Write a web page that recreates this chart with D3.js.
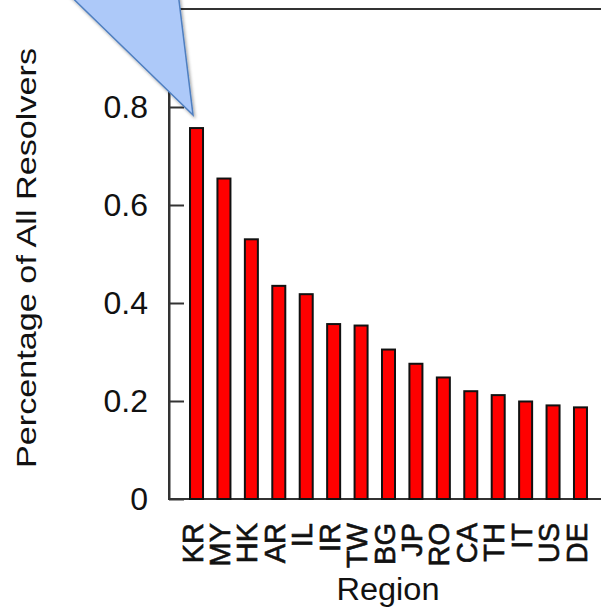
<!DOCTYPE html>
<html lang="en">
  <head>
    <meta charset="UTF-8" />
    <script src="https://d3js.org/d3.v7.min.js"></script>
    <title>Resolvers by region</title>
    <style>
      html, body { margin: 0; padding: 0; background: #fff; }
      svg { display: block; }
      text { font-family: "Liberation Sans", Arial, sans-serif; fill: #111; }
    </style>
  </head>
  <body>
    <svg width="601" height="607"></svg>
    <script>
      // values
      var regions = ["KR", "MY", "HK", "AR", "IL", "IR", "TW", "BG", "JP", "RO", "CA", "TH", "IT", "US", "DE"];
      var shares = [0.757, 0.654, 0.53, 0.435, 0.418, 0.357, 0.354, 0.305, 0.276, 0.248, 0.22, 0.212, 0.199, 0.191, 0.187];
      var yTicks = [0, 0.2, 0.4, 0.6, 0.8];

      var svg = d3.select("svg"),
        plotLeft = 169, plotRight = 608, plotTop = 9, plotBottom = 499;

      var x = d3.scaleBand()
        .domain(regions)
        .range([plotLeft, plotRight])
        .paddingInner(0.453)
        .paddingOuter(0.73);

      var y = d3.scaleLinear().domain([0, 1]).range([plotBottom, plotTop]);

      // frame
      svg.append("rect")
        .attr("x", plotLeft).attr("y", plotTop)
        .attr("width", plotRight - plotLeft).attr("height", plotBottom - plotTop)
        .attr("fill", "none")
        .attr("stroke", "#333")
        .attr("stroke-width", 2);

      // bars
      svg.append("g")
        .selectAll("rect")
        .data(regions)
        .enter()
        .append("rect")
        .attr("x", function (d) { return x(d) + 1; })
        .attr("y", function (d, i) { return y(shares[i]); })
        .attr("width", x.bandwidth() - 2)
        .attr("height", function (d, i) { return y(0) - y(shares[i]); })
        .attr("fill", "#ff0000")
        .attr("stroke", "#111")
        .attr("stroke-width", 2);

      // y axis, ticks point inwards
      var yAxis = svg.append("g")
        .attr("transform", "translate(" + plotLeft + ",0)")
        .call(d3.axisLeft(y).tickValues(yTicks).tickSizeInner(-15).tickSizeOuter(0).tickPadding(21)
          .tickFormat(function (d) { return d === 0 ? "0" : d3.format(".1f")(d); }));
      yAxis.select(".domain").attr("stroke", "#333").attr("stroke-width", 2);
      yAxis.selectAll(".tick line").attr("stroke", "#333").attr("stroke-width", 2);
      yAxis.selectAll("text")
        .attr("font-size", 32)
        .attr("font-family", "Liberation Sans, Arial, sans-serif")
        .attr("fill", "#1a1a2a");

      // x axis with rotated labels
      var xAxis = svg.append("g")
        .attr("transform", "translate(0," + plotBottom + ")")
        .call(d3.axisBottom(x).tickSize(0));
      xAxis.select(".domain").remove();
      xAxis.selectAll("text")
        .attr("transform", "rotate(-90)")
        .attr("x", -24)
        .attr("y", 0)
        .attr("dy", "0.21em")
        .attr("text-anchor", "end")
        .attr("font-size", 29)
        .attr("font-family", "Liberation Sans, Arial, sans-serif")
        .attr("fill", "#111")
        .attr("stroke", "#111")
        .attr("stroke-width", 0.6);

      // axis titles
      svg.append("text")
        .attr("transform", "translate(36,258) rotate(-90)")
        .attr("text-anchor", "middle")
        .attr("font-size", 28)
        .attr("textLength", 420)
        .attr("lengthAdjust", "spacingAndGlyphs")
        .text("Percentage of All Resolvers");

      svg.append("text")
        .attr("x", 388)
        .attr("y", 600)
        .attr("text-anchor", "middle")
        .attr("font-size", 31)
        .attr("textLength", 103)
        .attr("lengthAdjust", "spacingAndGlyphs")
        .text("Region");

      // callout tail pointing at the first bar
      var defs = svg.append("defs");
      defs.append("filter")
        .attr("id", "shadow")
        .attr("x", "-20%").attr("y", "-20%").attr("width", "140%").attr("height", "140%")
        .append("feDropShadow")
        .attr("dx", 1.5).attr("dy", 2)
        .attr("stdDeviation", 1.5)
        .attr("flood-color", "#000")
        .attr("flood-opacity", 0.35);

      var tipX = x(regions[0]) + 4,
        tipY = y(shares[0]) - 13;
      svg.append("polygon")
        .attr("points", [[54, -20], [176.5, -20], [tipX, tipY]].map(function (p) { return p.join(","); }).join(" "))
        .attr("fill", "#adc9f9")
        .attr("stroke", "#4f7fc0")
        .attr("stroke-width", 1.5)
        .attr("filter", "url(#shadow)");
    </script>
  </body>
</html>
